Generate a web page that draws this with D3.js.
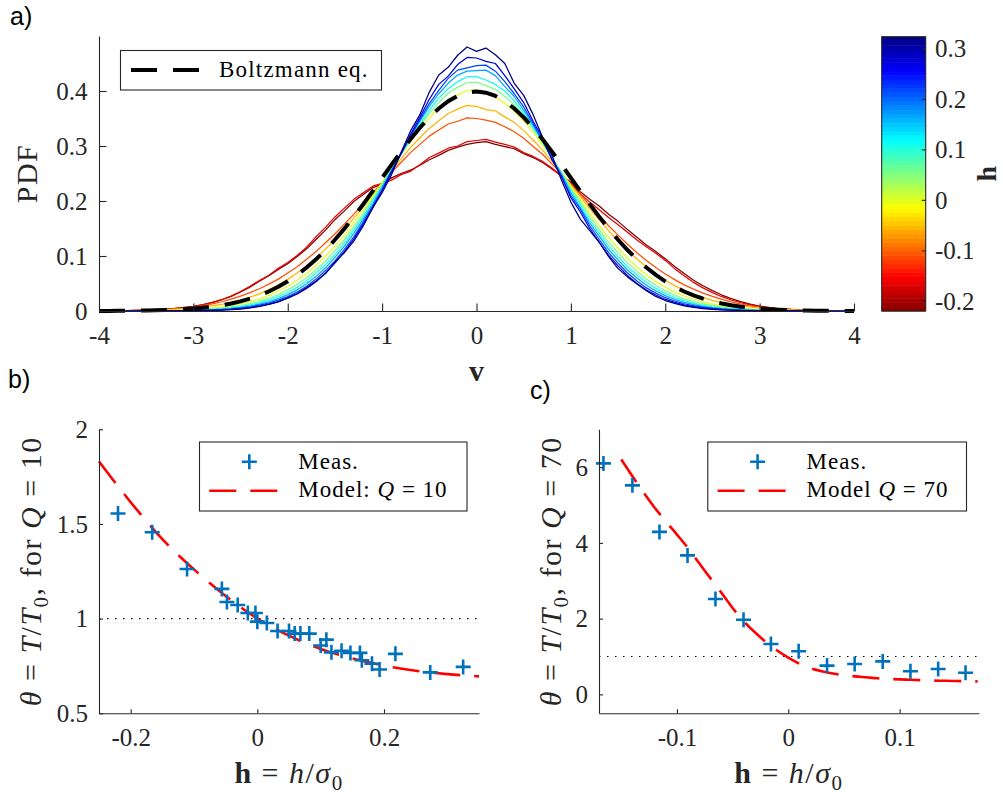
<!DOCTYPE html>
<html><head><meta charset="utf-8">
<script src="https://cdn.jsdelivr.net/npm/d3@7"></script>
<style>
html,body{margin:0;padding:0;background:#fff;}
svg{display:block;}
text{white-space:pre;}
</style></head><body>
<svg id="chart" width="1003" height="796"></svg>
<script>
// ---------------- DATA ----------------
// Panel a: velocity grid (shared by the measured PDFs and the Boltzmann curve)
const vGrid = [-4,-3.9,-3.8,-3.7,-3.6,-3.5,-3.4,-3.3,-3.2,-3.1,-3,-2.9,-2.8,-2.7,-2.6,-2.5,-2.4,-2.3,-2.2,-2.1,-2,-1.9,-1.8,-1.7,-1.6,-1.5,-1.4,-1.3,-1.2,-1.1,-1,-0.9,-0.8,-0.7,-0.6,-0.5,-0.4,-0.3,-0.2,-0.1,0,0.1,0.2,0.3,0.4,0.5,0.6,0.7,0.8,0.9,1,1.1,1.2,1.3,1.4,1.5,1.6,1.7,1.8,1.9,2,2.1,2.2,2.3,2.4,2.5,2.6,2.7,2.8,2.9,3,3.1,3.2,3.3,3.4,3.5,3.6,3.7,3.8,3.9,4];
// h value of each measured PDF (sets its colour)
const curveH = [-0.22,-0.166,-0.11,-0.055,0,0.055,0.11,0.166,0.22,0.273,0.325];
const pdfDarkRed = [.0002,.0003,.0005,.0008,.0011,.0016,.0023,.0033,.0046,.0064,.0085,.0118,.0155,.0205,.0265,.0345,.0435,.0540,.0640,.0755,.0860,.0990,.1130,.1300,.1470,.1660,.1820,.1990,.2120,.2240,.2310,.2420,.2500,.2560,.2650,.2750,.2830,.2920,.2980,.3030,.3060,.3080,.3030,.2990,.2950,.2860,.2790,.2700,.2580,.2470,.2340,.2170,.2030,.1910,.1760,.1630,.1480,.1340,.1200,.1080,.0950,.0810,.0680,.0560,.0460,.0370,.0290,.0225,.0170,.0125,.0090,.0065,.0045,.0032,.0022,.0015,.0010,.0007,.0004,.0003,.0002];
const pdfRed = [.0002,.0003,.0004,.0007,.0010,.0014,.0020,.0029,.0042,.0058,.0080,.0112,.0150,.0205,.0270,.0355,.0450,.0555,.0650,.0775,.0880,.1010,.1160,.1350,.1520,.1710,.1870,.2030,.2150,.2270,.2320,.2380,.2480,.2540,.2660,.2790,.2870,.2960,.3000,.3080,.3100,.3120,.3070,.3030,.2980,.2880,.2810,.2720,.2600,.2440,.2320,.2130,.1980,.1840,.1700,.1570,.1430,.1290,.1170,.1050,.0920,.0770,.0640,.0520,.0420,.0335,.0260,.0200,.0150,.0110,.0080,.0058,.0040,.0029,.0020,.0014,.0010,.0006,.0004,.0003,.0002];
const pdfOrange = [.0002,.0003,.0005,.0007,.0010,.0015,.0021,.0029,.0040,.0054,.0072,.0098,.0128,.0168,.0215,.0270,.0335,.0405,.0488,.0580,.0690,.0805,.0940,.1080,.1240,.1400,.1580,.1760,.1950,.2150,.2330,.2520,.2700,.2880,.3030,.3180,.3290,.3400,.3450,.3510,.3500,.3470,.3430,.3350,.3260,.3140,.2990,.2850,.2670,.2500,.2300,.2120,.1920,.1740,.1550,.1380,.1215,.1060,.0920,.0790,.0672,.0570,.0475,.0398,.0326,.0266,.0212,.0165,.0124,.0094,.0069,.0051,.0037,.0027,.0019,.0014,.0010,.0007,.0005,.0003,.0002];
const pdfGold = [.0002,.0003,.0004,.0006,.0008,.0012,.0016,.0022,.0031,.0041,.0055,.0072,.0095,.0122,.0158,.0200,.0252,.0312,.0388,.0472,.0575,.0690,.0820,.0960,.1125,.1300,.1490,.1690,.1900,.2120,.2330,.2550,.2760,.2970,.3150,.3320,.3460,.3590,.3670,.3740,.3720,.3660,.3640,.3530,.3430,.3280,.3110,.2930,.2720,.2520,.2290,.2080,.1860,.1660,.1460,.1280,.1100,.0945,.0800,.0672,.0560,.0462,.0376,.0305,.0244,.0194,.0152,.0119,.0091,.0070,.0053,.0040,.0029,.0021,.0015,.0011,.0008,.0006,.0004,.0003,.0002];
const pdfYellowGreen = [.0001,.0001,.0001,.0002,.0003,.0005,.0007,.0010,.0014,.0021,.0029,.0040,.0055,.0075,.0099,.0132,.0171,.0222,.0284,.0360,.0450,.0558,.0682,.0830,.0990,.1180,.1375,.1610,.1830,.2090,.2330,.2590,.2840,.3080,.3300,.3510,.3690,.3840,.3930,.4010,.4020,.3960,.3890,.3780,.3630,.3460,.3250,.3020,.2770,.2530,.2270,.2030,.1780,.1550,.1335,.1140,.0960,.0800,.0660,.0538,.0435,.0347,.0274,.0214,.0165,.0126,.0095,.0071,.0053,.0038,.0027,.0020,.0013,.0010,.0006,.0005,.0003,.0002,.0001,.0001,0];
const pdfLightGreen = [0,.0001,.0001,.0001,.0002,.0003,.0004,.0006,.0009,.0014,.0020,.0028,.0039,.0054,.0074,.0100,.0134,.0178,.0233,.0300,.0384,.0485,.0605,.0750,.0905,.1100,.1295,.1530,.1770,.2040,.2300,.2580,.2850,.3120,.3370,.3590,.3790,.3960,.4070,.4150,.4160,.4100,.4030,.3900,.3750,.3540,.3310,.3060,.2790,.2520,.2230,.1980,.1710,.1480,.1250,.1060,.0875,.0720,.0582,.0468,.0368,.0288,.0223,.0170,.0128,.0096,.0070,.0051,.0037,.0026,.0018,.0013,.0009,.0006,.0004,.0003,.0002,.0001,.0001,0,0];
const pdfCyan = [0,0,0,.0001,.0001,.0002,.0003,.0004,.0006,.0009,.0014,.0020,.0029,.0041,.0058,.0080,.0110,.0148,.0197,.0260,.0336,.0430,.0545,.0690,.0840,.1030,.1235,.1470,.1720,.2000,.2270,.2570,.2850,.3130,.3400,.3650,.3870,.4040,.4170,.4260,.4260,.4200,.4120,.4000,.3820,.3600,.3340,.3080,.2780,.2500,.2190,.1930,.1650,.1420,.1180,.0990,.0805,.0655,.0522,.0412,.0320,.0246,.0188,.0140,.0104,.0076,.0054,.0039,.0027,.0019,.0013,.0009,.0006,.0004,.0003,.0002,.0001,0,0,0,0];
const pdfLightBlue = [0,0,0,.0001,.0001,.0001,.0002,.0003,.0004,.0007,.0011,.0015,.0022,.0032,.0046,.0065,.0090,.0124,.0168,.0226,.0297,.0385,.0495,.0630,.0785,.0975,.1180,.1410,.1670,.1950,.2250,.2560,.2870,.3170,.3450,.3720,.3950,.4140,.4290,.4360,.4370,.4380,.4280,.4080,.3900,.3650,.3380,.3100,.2780,.2490,.2150,.1880,.1600,.1360,.1120,.0930,.0745,.0600,.0468,.0368,.0280,.0213,.0158,.0118,.0085,.0061,.0043,.0030,.0020,.0014,.0009,.0006,.0004,.0003,.0002,.0001,.0001,0,0,0,0];
const pdfBlue = [0,0,0,0,.0001,.0001,.0001,.0002,.0003,.0005,.0008,.0012,.0017,.0025,.0036,.0053,.0075,.0105,.0143,.0198,.0262,.0345,.0450,.0580,.0735,.0910,.1120,.1350,.1620,.1910,.2210,.2540,.2850,.3180,.3480,.3770,.4010,.4230,.4380,.4420,.4460,.4470,.4360,.4170,.3950,.3710,.3410,.3100,.2760,.2440,.2100,.1850,.1550,.1300,.1060,.0870,.0690,.0545,.0420,.0325,.0242,.0182,.0132,.0096,.0068,.0048,.0033,.0022,.0015,.0010,.0007,.0004,.0003,.0002,.0001,0,0,0,0,0,0];
const pdfDarkBlue = [0,0,0,0,0,.0001,.0001,.0001,.0002,.0004,.0006,.0009,.0013,.0019,.0029,.0043,.0062,.0088,.0124,.0172,.0235,.0310,.0410,.0530,.0690,.0870,.1080,.1310,.1580,.1870,.2190,.2530,.2860,.3210,.3520,.3850,.4120,.4270,.4480,.4610,.4600,.4540,.4500,.4280,.4040,.3790,.3450,.3150,.2750,.2450,.2060,.1800,.1500,.1250,.1010,.0820,.0640,.0500,.0380,.0290,.0210,.0158,.0110,.0081,.0055,.0039,.0026,.0018,.0011,.0008,.0005,.0003,.0002,.0001,.0001,0,0,0,0,0,0];
const pdfNavy = [0,0,0,0,0,.0001,.0001,.0001,.0002,.0003,.0005,.0007,.0011,.0016,.0025,.0036,.0055,.0082,.0118,.0165,.0238,.0318,.0425,.0545,.0680,.0890,.1060,.1270,.1545,.1880,.2150,.2480,.2880,.3270,.3570,.3980,.4290,.4430,.4650,.4800,.4720,.4780,.4660,.4500,.4140,.3920,.3570,.3160,.2830,.2380,.1980,.1670,.1460,.1250,.0990,.0770,.0620,.0490,.0370,.0265,.0190,.0138,.0095,.0068,.0045,.0031,.0020,.0014,.0009,.0006,.0004,.0003,.0002,.0001,.0001,0,0,0,0,0,0];
// Boltzmann (Maxwellian) reference
const boltzmann = [0.0001,0.0002,0.0003,0.0004,0.0006,0.0009,0.0012,0.0017,0.0024,0.0033,0.0044,0.0060,0.0079,0.0104,0.0136,0.0175,0.0224,0.0283,0.0355,0.0440,0.0540,0.0656,0.0790,0.0940,0.1109,0.1295,0.1497,0.1714,0.1942,0.2179,0.2420,0.2661,0.2897,0.3123,0.3332,0.3521,0.3683,0.3814,0.3910,0.3970,0.3989,0.3970,0.3910,0.3814,0.3683,0.3521,0.3332,0.3123,0.2897,0.2661,0.2420,0.2179,0.1942,0.1714,0.1497,0.1295,0.1109,0.0940,0.0790,0.0656,0.0540,0.0440,0.0355,0.0283,0.0224,0.0175,0.0136,0.0104,0.0079,0.0060,0.0044,0.0033,0.0024,0.0017,0.0012,0.0009,0.0006,0.0004,0.0003,0.0002,0.0001];
const aXTicks = [-4,-3,-2,-1,0,1,2,3,4];
const aXTickLabels = ["-4","-3","-2","-1","0","1","2","3","4"];
const aYTicks = [0,0.1,0.2,0.3,0.4];
const aYTickLabels = ["0","0.1","0.2","0.3","0.4"];
const cbDomain = [-0.22,0.323];
const cbTicks = [-0.2,-0.1,0,0.1,0.2,0.3];
const cbTickLabels = ["-0.2","-0.1","0","0.1","0.2","0.3"];

// Panel b (Q = 10)
const bMeasH = [-0.220,-0.166,-0.111,-0.056,-0.048,-0.031,-0.015,-0.003,0.000,0.015,0.032,0.050,0.059,0.068,0.082,0.100,0.109,0.117,0.133,0.147,0.162,0.165,0.181,0.193,0.218,0.273,0.325];
const bMeasTheta = [1.555,1.456,1.262,1.157,1.088,1.072,1.030,1.030,0.984,0.977,0.935,0.935,0.921,0.921,0.921,0.858,0.889,0.822,0.830,0.819,0.819,0.780,0.762,0.731,0.814,0.716,0.745];
const bModelH = [-0.25,-0.2,-0.15,-0.1,-0.05,0,0.05,0.1,0.15,0.2,0.25,0.3,0.35];
const bModelTheta = [1.83,1.615,1.42,1.26,1.12,1.0,0.91,0.84,0.79,0.752,0.725,0.707,0.695];
const bXTicks = [-0.2,0,0.2];
const bXTickLabels = ["-0.2","0","0.2"];
const bYTicks = [0.5,1,1.5,2];
const bYTickLabels = ["0.5","1","1.5","2"];
const refLevel = 1;

// Panel c (Q = 70)
const cMeasH = [-0.166,-0.140,-0.1157,-0.0905,-0.0654,-0.0402,-0.0156,0.0093,0.0348,0.0596,0.0848,0.1097,0.1346,0.1592];
const cMeasTheta = [6.10,5.52,4.29,3.67,2.52,1.97,1.33,1.14,0.76,0.80,0.87,0.61,0.67,0.57];
const cModelH = [-0.15,-0.14,-0.13,-0.12,-0.11,-0.10,-0.09,-0.08,-0.07,-0.06,-0.05,-0.04,-0.03,-0.02,-0.01,0,0.01,0.02,0.03,0.04,0.05,0.06,0.07,0.08,0.09,0.10,0.11,0.12,0.13,0.14,0.15,0.16,0.17];
const cModelTheta = [6.2,5.76,5.33,4.93,4.57,4.22,3.86,3.46,3.07,2.68,2.28,1.93,1.64,1.38,1.16,0.97,0.81,0.69,0.61,0.55,0.51,0.475,0.45,0.425,0.41,0.395,0.385,0.375,0.365,0.358,0.352,0.347,0.343];
const cXTicks = [-0.1,0,0.1];
const cXTickLabels = ["-0.1","0","0.1"];
const cYTicks = [0,2,4,6];
const cYTickLabels = ["0","2","4","6"];

// ---------------- DRAWING ----------------
const SERIF = "'Liberation Serif','Times New Roman',serif";
const SANS = "'Liberation Sans',Arial,Helvetica,sans-serif";
const AX = "#262626";
const TICKFS = 25, LABFS = 30, LEGFS = 23;
const svg = d3.select("#chart");
svg.append("rect").attr("width",1003).attr("height",796).attr("fill","#fff");

const jetScale = d3.scaleLinear().domain([0,0.125,0.375,0.625,0.875,1])
  .range(["#000080","#0000ff","#00ffff","#ffff00","#ff0000","#800000"]).clamp(true);
const hToT = d3.scaleLinear().domain([cbDomain[1], cbDomain[0]]).range([0,1]).clamp(true);

function styleAxis(g){
  g.attr("font-family",SERIF).attr("font-size",TICKFS);
  g.select(".domain").attr("stroke",AX).attr("stroke-width",1.1);
  g.selectAll(".tick line").attr("stroke",AX).attr("stroke-width",1.1);
  g.selectAll(".tick text").attr("fill",AX).attr("font-family",SERIF);
}
function mathText(sel, parts, size){
  let shift = 0;
  parts.forEach(([t,s])=>{
    const ts = sel.append("tspan").text(t);
    if(s==="i") ts.attr("font-style","italic");
    if(s==="b") ts.attr("font-weight","bold");
    if(s==="sub"){ ts.attr("font-size", size*0.7).attr("dy", size*0.22); shift = size*0.22; }
    else if(shift){ ts.attr("dy", -shift); shift = 0; }
  });
}
function plusPath(){ return "M-7.5,0H7.5M0,-7.5V7.5"; }

// ===== Panel a =====
const xA = d3.scaleLinear().domain([-4,4]).range([99,854]);
const yA = d3.scaleLinear().domain([0,0.5]).range([311,36]);
const pdfSeries = [pdfDarkRed,pdfRed,pdfOrange,pdfGold,pdfYellowGreen,pdfLightGreen,pdfCyan,pdfLightBlue,pdfBlue,pdfDarkBlue,pdfNavy];
const lineA = d3.line().x((d,i)=>xA(vGrid[i])).y(d=>yA(d));
const gA = svg.append("g");
pdfSeries.forEach((s,k)=>{
  gA.append("path").attr("d",lineA(s)).attr("fill","none")
    .attr("stroke",jetScale(hToT(curveH[k]))).attr("stroke-width",1.25).attr("stroke-linejoin","round");
});
gA.append("path").attr("d", lineA(boltzmann))
  .attr("fill","none").attr("stroke","#000").attr("stroke-width",4).attr("stroke-dasharray","26,16");

svg.append("g").attr("transform","translate(0,311)")
  .call(d3.axisBottom(xA).tickValues(aXTicks).tickFormat((d,i)=>aXTickLabels[i]).tickSize(-7.5).tickSizeOuter(0).tickPadding(15.5))
  .call(styleAxis);
svg.append("g").attr("transform","translate(99,0)")
  .call(d3.axisLeft(yA).tickValues(aYTicks).tickFormat((d,i)=>aYTickLabels[i]).tickSize(-7.5).tickSizeOuter(0).tickPadding(11.5))
  .call(styleAxis)
  .call(g=>g.selectAll(".tick text").attr("dy","0.33em"));

// legend a
const legA = svg.append("g");
legA.append("rect").attr("x",120.5).attr("y",50.5).attr("width",261).attr("height",39.5)
  .attr("fill","#fff").attr("stroke",AX).attr("stroke-width",1.1);
legA.append("line").attr("x1",131).attr("x2",200).attr("y1",70).attr("y2",70)
  .attr("stroke","#000").attr("stroke-width",4).attr("stroke-dasharray","26,16");
legA.append("text").attr("x",219).attr("y",77).attr("font-family",SERIF).attr("font-size",LEGFS)
  .attr("letter-spacing",1.2).attr("fill","#000").text("Boltzmann eq.");

// labels a
svg.append("text").attr("transform","translate(36.5,173.5) rotate(-90)").attr("text-anchor","middle")
  .attr("font-family",SERIF).attr("font-size",LABFS).attr("letter-spacing",1.5).attr("fill",AX).text("PDF");
svg.append("text").attr("x",476.5).attr("y",381).attr("text-anchor","middle")
  .attr("font-family",SERIF).attr("font-size",LABFS).attr("font-weight","bold").attr("fill",AX).text("v");

// colorbar
const yCB = d3.scaleLinear().domain(cbDomain).range([311,36.7]);
const nBands = 64;
const bands = d3.range(nBands);
const gCB = svg.append("g");
const bandEdge = i => yCB(cbDomain[0]+i*(cbDomain[1]-cbDomain[0])/nBands);
gCB.selectAll("rect.band").data(bands).join("rect").attr("class","band")
  .attr("x",881.7).attr("width",44)
  .attr("y",i=>bandEdge(i+1))
  .attr("height",i=>bandEdge(i)-bandEdge(i+1)+0.5)
  .attr("fill",i=>jetScale(1-(i+0.5)/nBands));
gCB.append("rect").attr("x",881.7).attr("y",36.7).attr("width",44).attr("height",311-36.7)
  .attr("fill","none").attr("stroke",AX).attr("stroke-width",1.1);
svg.append("g").attr("transform","translate(925.7,0)")
  .call(d3.axisRight(yCB).tickValues(cbTicks).tickFormat((d,i)=>cbTickLabels[i]).tickSize(-4).tickSizeOuter(0).tickPadding(9.3))
  .call(styleAxis)
  .call(g=>g.select(".domain").remove())
  .call(g=>g.selectAll(".tick text").attr("dy","0.33em"));
svg.append("text").attr("transform","translate(996,173.8) rotate(-90)").attr("text-anchor","middle")
  .attr("font-family",SERIF).attr("font-size",28).attr("font-weight","bold").attr("fill",AX).text("h");

// panel tags
svg.append("text").attr("x",10).attr("y",25).attr("font-family",SANS).attr("font-size",25).attr("fill","#000").text("a)");
svg.append("text").attr("x",8).attr("y",388).attr("font-family",SANS).attr("font-size",25).attr("fill","#000").text("b)");
svg.append("text").attr("x",530).attr("y",399).attr("font-family",SANS).attr("font-size",25).attr("fill","#000").text("c)");

// ===== Panels b & c =====
function drawTheta(opts){
  const {x, y, measH, measT, modelH, modelT, xTicks, xLabels, yTicks, yLabels, ylabX, legX, legLabel} = opts;
  const g = svg.append("g");
  g.append("line").attr("x1",x.range()[0]).attr("x2",x.range()[1]).attr("y1",y(refLevel)).attr("y2",y(refLevel))
    .attr("stroke","#000").attr("stroke-width",1.2).attr("stroke-dasharray","1.5,6.5");
  g.append("path").attr("d", d3.line().curve(d3.curveMonotoneX).x((d,i)=>x(modelH[i])).y(d=>y(d))(modelT))
    .attr("fill","none").attr("stroke","#ff0000").attr("stroke-width",2.6).attr("stroke-dasharray","27,14");
  g.selectAll("path.meas").data(measT).join("path").attr("class","meas")
    .attr("transform",(d,i)=>`translate(${x(measH[i])},${y(d)})`)
    .attr("d",plusPath()).attr("fill","none").attr("stroke","#0072bd").attr("stroke-width",2.6);
  svg.append("g").attr("transform",`translate(0,${y.range()[0]})`)
    .call(d3.axisBottom(x).tickValues(xTicks).tickFormat((d,i)=>xLabels[i]).tickSize(-4).tickSizeOuter(0).tickPadding(14.7))
    .call(styleAxis);
  svg.append("g").attr("transform",`translate(${x.range()[0]},0)`)
    .call(d3.axisLeft(y).tickValues(yTicks).tickFormat((d,i)=>yLabels[i]).tickSize(-4).tickSizeOuter(0).tickPadding(11))
    .call(styleAxis)
    .call(g=>g.selectAll(".tick text").attr("dy","0.33em"));
  const cx = (x.range()[0]+x.range()[1])/2, cy = (y.range()[0]+y.range()[1])/2;
  const xl = svg.append("text").attr("x",cx).attr("y",783).attr("text-anchor","middle")
    .attr("font-family",SERIF).attr("font-size",LABFS).attr("letter-spacing",1.5).attr("fill",AX);
  mathText(xl, [["h","b"],[" = ",""],["h","i"],["/",""],["σ","i"],["0","sub"]], LABFS);
  const yl = svg.append("text").attr("transform",`translate(${ylabX},${cy}) rotate(-90)`).attr("text-anchor","middle")
    .attr("font-family",SERIF).attr("font-size",LABFS).attr("letter-spacing",1.5).attr("fill",AX);
  mathText(yl, [["θ","i"],[" = ",""],["T","i"],["/",""],["T","i"],["0","sub"],[", for ",""],["Q","i"],[" = "+opts.qVal,""]], LABFS);
  const L = svg.append("g");
  L.append("rect").attr("x",legX+0.5).attr("y",442).attr("width",opts.legW).attr("height",69)
    .attr("fill","#fff").attr("stroke",AX).attr("stroke-width",1.1);
  L.append("path").attr("transform",`translate(${legX+50.3},461.7)`).attr("d",plusPath())
    .attr("fill","none").attr("stroke","#0072bd").attr("stroke-width",2.6);
  L.append("line").attr("x1",legX+10.3).attr("x2",legX+79.3).attr("y1",490.7).attr("y2",490.7)
    .attr("stroke","#ff0000").attr("stroke-width",2.6).attr("stroke-dasharray","27,14");
  L.append("text").attr("x",legX+99.3).attr("y",468.5).attr("font-family",SERIF).attr("font-size",LEGFS)
    .attr("letter-spacing",1).attr("fill","#000").text("Meas.");
  const lt = L.append("text").attr("x",legX+99.3).attr("y",497).attr("font-family",SERIF).attr("font-size",LEGFS)
    .attr("letter-spacing",1).attr("fill","#000");
  mathText(lt, legLabel, LEGFS);
}

drawTheta({
  x: d3.scaleLinear().domain([-0.25,0.35]).range([99,479]),
  y: d3.scaleLinear().domain([0.5,2]).range([713.3,429.3]),
  measH: bMeasH, measT: bMeasTheta, modelH: bModelH, modelT: bModelTheta,
  xTicks: bXTicks, xLabels: bXTickLabels, yTicks: bYTicks, yLabels: bYTickLabels,
  ylabX: 41, legX: 199, legW: 267.5, qVal: "10",
  legLabel: [["Model: ",""],["Q","i"],[" = 10",""]]
});
drawTheta({
  x: d3.scaleLinear().domain([-0.17,0.171]).range([599,978.7]),
  y: d3.scaleLinear().domain([-0.5,7]).range([713.3,429.3]),
  measH: cMeasH, measT: cMeasTheta, modelH: cModelH, modelT: cModelTheta,
  xTicks: cXTicks, xLabels: cXTickLabels, yTicks: cYTicks, yLabels: cYTickLabels,
  ylabX: 561, legX: 707.3, legW: 258.7, qVal: "70",
  legLabel: [["Model ",""],["Q","i"],[" = 70",""]]
});
</script>
</body></html>
